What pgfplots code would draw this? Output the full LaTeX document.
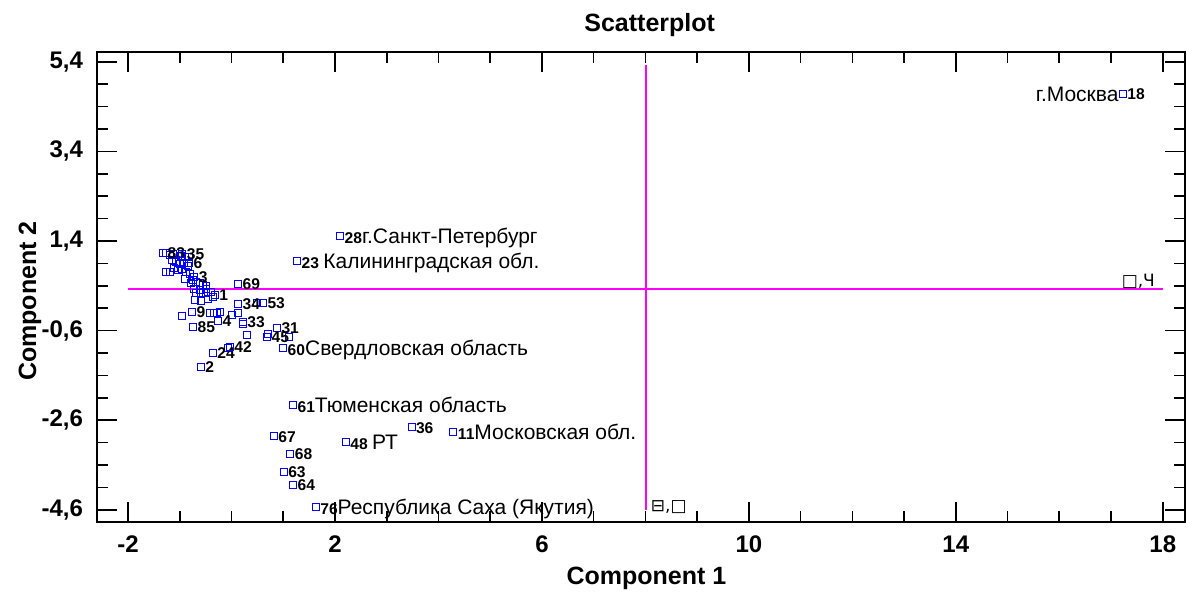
\documentclass[border=0pt]{standalone}
\usepackage{fontspec}
\setmainfont{Liberation Sans}
\newfontfamily\symfont{DejaVu Sans}
\usepackage{pgfplots}
\pgfplotsset{compat=1.18}
\definecolor{ptblue}{RGB}{0,0,255}
\definecolor{refline}{RGB}{255,0,255}
% region name after the bold number
\newcommand\nm[1]{{\mdseries\fontsize{10.5}{12}\selectfont#1}}
\pgfplotsset{
  pts/.style={only marks, mark=square, mark size=1.75pt, ptblue, line width=0.5pt},
  numlab/.style={point meta=explicit symbolic, nodes near coords,
    nodes near coords style={anchor=base west, xshift=2pt, yshift=-2.8pt, inner sep=0pt,
      text=black, font=\bfseries\fontsize{7.8}{9}\selectfont}},
  namelab/.style={point meta=explicit symbolic, nodes near coords,
    nodes near coords style={anchor=base west, xshift=2pt, yshift=-3.7pt, inner sep=0pt,
      text=black, font=\bfseries\fontsize{7.8}{9}\selectfont}},
}
\begin{document}
\begin{tikzpicture}
\path[use as bounding box] (-48.5pt,-35pt) rectangle (545.5pt,261pt);
\begin{axis}[
  at={(0pt,0pt)}, anchor=south west,
  scale only axis, width=544pt, height=235pt,
  xmin=-2.6, xmax=18.43, ymin=-4.87, ymax=5.62,
  xtick={-2,2,6,10,14,18},
  ytick={-4.6,-2.6,-0.6,1.4,3.4,5.4},
  minor x tick num=3, minor y tick num=3,
  tick align=inside, major tick length=10pt, minor tick length=5.5pt,
  axis line style={line width=1pt},
  every tick/.style={black, line width=0.8pt},
  /pgf/number format/use comma,
  /pgf/number format/fixed,
  /pgf/number format/precision=1,
  /pgf/number format/assume math mode=true,
  ticklabel style={font=\bfseries\fontsize{12}{14}\selectfont},
  yticklabel style={xshift=-3.5pt},
  xticklabel style={yshift=-3.5pt},
  title={Scatterplot},
  every axis title/.style={at={(axis description cs:0.508,1)}, anchor=center, yshift=13.5pt,
    font=\bfseries\fontsize{12.5}{15}\selectfont},
  xlabel={Component 1},
  every axis x label/.style={at={(axis description cs:0.505,0)}, anchor=center, yshift=-28pt,
    font=\bfseries\fontsize{12.5}{15}\selectfont},
  ylabel={Component 2},
  every axis y label/.style={at={(axis description cs:-0.0616,0.47)}, anchor=center, rotate=90,
    font=\bfseries\fontsize{12.5}{15}\selectfont},
  clip=false,
]
% reference lines
\addplot[color=refline, line width=1pt, mark=none] coordinates {(-2,0.33) (18,0.33)};
\addplot[color=refline, line width=1pt, mark=none] coordinates {(8.02,-4.6) (8.02,5.33)};

% points without labels
\addplot[pts] coordinates {
(-1.27,1.14) (-1.19,1.09) (-1.13,1.11) (-0.98,1.07) (-0.90,1.05) (-0.82,1.05)
(-1.15,0.98) (-1.07,0.94) (-1.00,0.89) (-0.92,0.91) (-0.84,0.85) (-1.11,0.80)
(-1.03,0.76) (-0.96,0.78) (-0.88,0.71) (-0.80,0.67) (-1.27,0.71) (-1.19,0.71)
(-0.90,0.56) (-0.74,0.53) (-0.69,0.49) (-0.61,0.47) (-0.55,0.42) (-0.78,0.47)
(-0.49,0.40) (-0.72,0.33) (-0.61,0.31) (-0.49,0.33) (-0.69,0.24) (-0.59,0.24)
(-0.49,0.24) (-0.40,0.27) (-0.71,0.09) (-0.59,0.07) (-0.45,0.11) (-0.36,0.16)
(0.49,0.02) (-0.96,-0.27) (-0.42,-0.20) (-0.34,-0.20) (-0.28,-0.20) (-0.22,-0.18)
(0.01,-0.25) (0.13,-0.20) (0.22,-0.45) (0.30,-0.69) (0.71,-0.67) (1.11,-0.74)
(-0.07,-0.98)
};

% points labelled with a number only
\addplot[pts, numlab] coordinates {
(-1.32,1.14) [83] (-0.95,1.11) [35] (-0.82,0.91) [6] (-0.72,0.60) [3]
(-0.32,0.20) [1] (0.13,0.44) [69] (0.13,0.00) [34] (0.61,0.02) [53]
(-0.76,-0.18) [9] (-0.74,-0.52) [85] (-0.26,-0.38) [4] (0.22,-0.40) [33]
(0.88,-0.54) [31] (0.69,-0.74) [45] (-0.36,-1.10) [24] (-0.03,-0.96) [42]
(-0.59,-1.41) [2] (3.48,-2.76) [36] (0.82,-2.96) [67] (1.14,-3.36) [68]
(1.01,-3.75) [63] (1.19,-4.04) [64] (17.23,4.69) [18]
};

% points labelled with number and region name
\addplot[pts, namelab] coordinates {
(2.10,1.52) [{28\nm{г.Санкт-Петербург}}]
(1.27,0.96) [{23 \nm{Калининградская обл.}}]
(1.00,-0.98) [{60\nm{Свердловская область}}]
(1.19,-2.26) [{61\nm{Тюменская область}}]
(2.21,-3.08) [{48 \nm{РТ}}]
(4.29,-2.87) [{11\nm{Московская обл.}}]
(1.63,-4.54) [{76\nm{Республика Саха (Якутия)}}]
};

% name on the left of the Moscow point
\addplot[draw=none, mark=none, point meta=explicit symbolic, nodes near coords,
  nodes near coords style={anchor=base east, xshift=-2pt, yshift=-3.7pt, inner sep=0pt,
    text=black, font=\fontsize{10.5}{12}\selectfont}]
  coordinates {(17.23,4.69) [г.Москва]};

% glyphs at the ends of the reference lines
\node[anchor=west, inner sep=0pt, font=\symfont\fontsize{8.5}{10}\selectfont] at (axis cs:17.2,0.51) {□,Ч};
\node[anchor=west, inner sep=0pt, font=\symfont\fontsize{8.5}{10}\selectfont] at (axis cs:8.1,-4.53) {⊟,□};
\end{axis}
\end{tikzpicture}
\end{document}
